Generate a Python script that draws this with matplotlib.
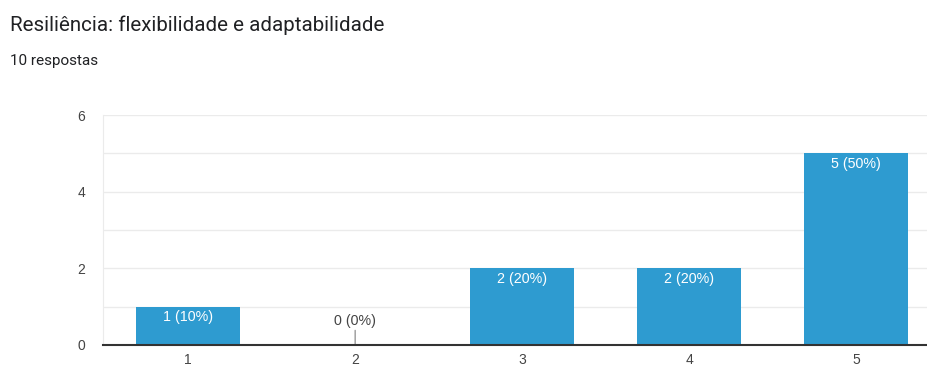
import matplotlib.pyplot as plt

categories = ["1", "2", "3", "4", "5"]
counts = [1, 0, 2, 2, 5]
total = 10
title = "Resiliência: flexibilidade e adaptabilidade"
subtitle = "10 respostas"

bar_color = "#2e9bd0"
text_color = "#444444"

fig = plt.figure(figsize=(9.28, 3.67), dpi=100)
ax = fig.add_axes([103 / 928, 22 / 367, 825 / 928, 230 / 367])

xs = list(range(1, len(categories) + 1))
ax.bar(xs, counts, width=0.62, color=bar_color, zorder=3)

for x, c in zip(xs, counts):
    label = f"{c} ({round(100 * c / total)}%)"
    if c > 0:
        ax.annotate(label, (x, c), xytext=(0, -7.5), textcoords="offset points",
                    ha="center", va="center", color="white", fontsize=10.3,
                    family="Liberation Sans", zorder=4)
    else:
        # empty category: faint baseline stub plus a leader line to the label
        ax.hlines(0, x - 0.31, x + 0.31, color="#a9d3ea", lw=1.2, zorder=3)
        ax.annotate(label, (x, 0), xytext=(0, 12.5), textcoords="offset points",
                    ha="center", va="bottom", color=text_color, fontsize=10.3,
                    family="Liberation Sans",
                    arrowprops=dict(arrowstyle="-", color="#999999", lw=1,
                                    shrinkA=0, shrinkB=0))

ax.set_xlim(0.49, 5.43)
ax.set_ylim(0, 6)
ax.set_xticks(xs)
ax.set_xticklabels(categories)
ax.set_yticks([0, 2, 4, 6])
ax.set_yticks([1, 3, 5], minor=True)
ax.grid(axis="y", which="both", color="#ebebeb", lw=1, zorder=0)
ax.tick_params(axis="both", which="both", length=0, labelsize=10,
               labelcolor=text_color)
ax.tick_params(axis="y", pad=13)
ax.tick_params(axis="x", pad=6)
for lbl in ax.get_xticklabels() + ax.get_yticklabels():
    lbl.set_family("Liberation Sans")

ax.spines["top"].set_visible(False)
ax.spines["right"].set_visible(False)
ax.spines["left"].set_color("#ebebeb")
ax.spines["bottom"].set_color("#333333")
ax.spines["bottom"].set_linewidth(1.5)
ax.spines["bottom"].set_zorder(5)

fig.text(10 / 928, 1 - 25 / 367, title, fontsize=14.8, family="Roboto",
         color="#202124", va="center", ha="left")
fig.text(10 / 928, 1 - 61 / 367, subtitle, fontsize=11, family="Roboto",
         color="#202124", va="center", ha="left")

fig.savefig("out.png", dpi=100, facecolor="white")
